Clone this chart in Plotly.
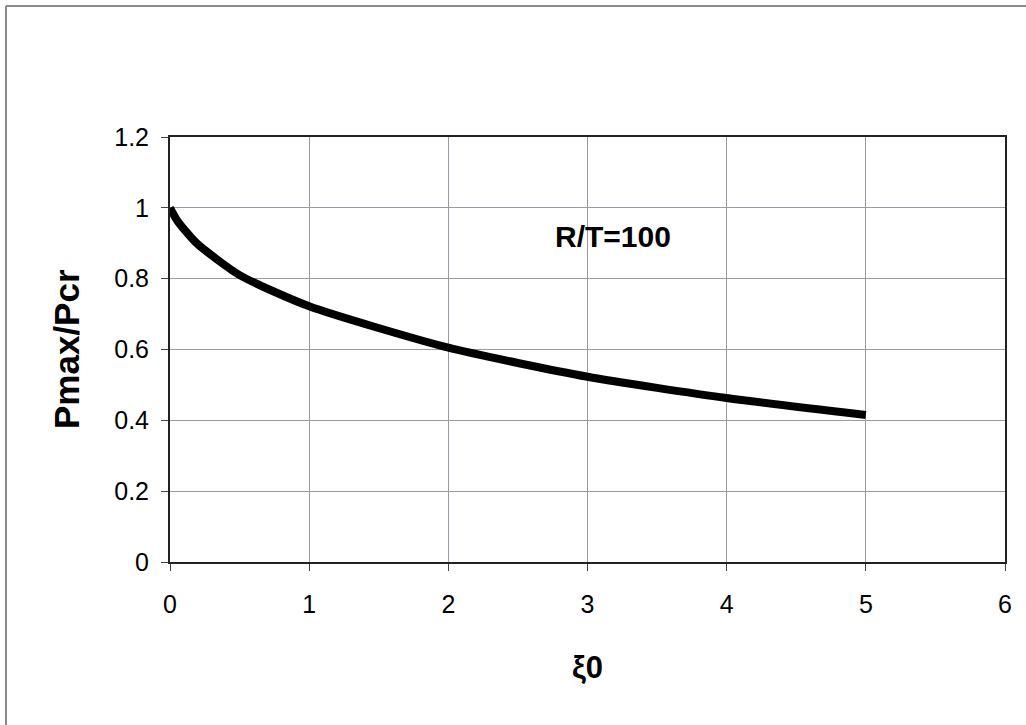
import plotly.graph_objects as go

xi0 = [0, 0.05, 0.1, 0.2, 0.5, 1, 2, 3, 4, 5]
ratio = [1.0, 0.965, 0.94, 0.897, 0.81, 0.722, 0.605, 0.523, 0.463, 0.415]

x_ticks = [0, 1, 2, 3, 4, 5, 6]
y_ticks = [0, 0.2, 0.4, 0.6, 0.8, 1, 1.2]

W, H = 1026, 725
L, R, T, B = 170, 21, 137, 163
pw, ph = W - L - R, H - T - B

def px(xpix):
    return (xpix - L) / pw

def py(ypix):
    return (H - B - ypix) / ph

fig = go.Figure()
fig.add_trace(go.Scatter(
    x=xi0, y=ratio, mode="lines",
    line=dict(color="black", width=8, shape="spline", smoothing=0.6),
    showlegend=False, hoverinfo="skip"))

font_family = "Liberation Sans, Arial, sans-serif"

fig.update_layout(
    width=W, height=H,
    margin=dict(l=L, r=R, t=T, b=B),
    paper_bgcolor="white", plot_bgcolor="white",
    font=dict(family=font_family, color="black", size=25),
    xaxis=dict(range=[0, 6], tickvals=x_ticks, showgrid=True,
               gridcolor="#9a9aa6", gridwidth=1,
               showline=True, linecolor="#222", linewidth=2, mirror=True,
               ticks="outside", ticklen=7, tickcolor="#444",
               ticklabelstandoff=12,
               zeroline=False, tickfont=dict(size=25)),
    yaxis=dict(range=[0, 1.2], tickvals=y_ticks, showgrid=True,
               gridcolor="#9a9aa6", gridwidth=1,
               showline=True, linecolor="#222", linewidth=2, mirror=True,
               ticks="outside", ticklen=7, tickcolor="#444",
               ticklabelstandoff=7,
               zeroline=False, tickfont=dict(size=25)),
    annotations=[
        dict(text="<b>R/T=100</b>", x=3.18, y=0.918, xref="x", yref="y",
             xanchor="center", yanchor="middle",
             showarrow=False, font=dict(size=30)),
        dict(text="<b>ξ0</b>", x=0.5, y=py(667), xref="paper", yref="paper",
             xanchor="center", yanchor="middle",
             showarrow=False, font=dict(size=31)),
        dict(text="<b>Pmax/Pcr</b>", x=px(66), y=py(349), xref="paper", yref="paper",
             xanchor="center", yanchor="middle",
             showarrow=False, textangle=-90, font=dict(size=35)),
    ],
    shapes=[
        dict(type="line", xref="paper", yref="paper",
             x0=px(6), x1=px(1026), y0=py(6), y1=py(6),
             line=dict(color="#8a8a8a", width=2)),
        dict(type="line", xref="paper", yref="paper",
             x0=px(6), x1=px(6), y0=py(6), y1=py(725),
             line=dict(color="#8a8a8a", width=2)),
    ],
)

fig.write_html("out.html")
